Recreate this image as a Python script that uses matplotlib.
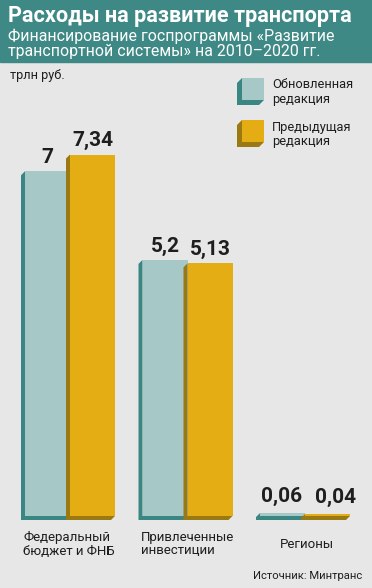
import matplotlib.pyplot as plt
from matplotlib.patches import Polygon, Rectangle

# ------------------------ ДАННЫЕ ------------------------
categories = ["Федеральный\nбюджет и ФНБ", "Привлеченные\nинвестиции", "Регионы"]
updated = [7, 5.2, 0.06]
previous = [7.34, 5.13, 0.04]
updated_labels = ["7", "5,2", "0,06"]
previous_labels = ["7,34", "5,13", "0,04"]
series_names = ["Обновленная\nредакция", "Предыдущая\nредакция"]

title = "Расходы на развитие транспорта"
subtitle = "Финансирование госпрограммы «Развитие\nтранспортной системы» на 2010–2020 гг."
unit = "трлн руб."
source = "Источник: Минтранс"

# ------------------------ СТИЛЬ ------------------------
W, H = 372, 588
BG = "#e7e7e7"
HEAD = "#3e8985"
TEAL, TEAL_D = "#a6c9c8", "#3a8683"
GOLD, GOLD_D = "#e4ad14", "#9a7812"
INK = "#1e1e1e"
FONT = "Roboto"

plt.rcParams["font.family"] = [FONT, "DejaVu Sans"]

fig = plt.figure(figsize=(W / 100, H / 100), dpi=100, facecolor=BG)


def fx(px):
    return px / W


def fy(py):
    return 1 - py / H


# шапка
fig.patches.append(Rectangle((0, fy(62)), 1, 62 / H, transform=fig.transFigure,
                             color=HEAD, zorder=0))
fig.text(fx(8), fy(16), title, color="white", fontsize=15.6, fontweight="bold",
         va="center", ha="left")
fig.text(fx(8), fy(44), subtitle, color="white", fontsize=11.4,
         va="center", ha="left", linespacing=1.05)
fig.text(fx(10), fy(75), unit, color=INK, fontsize=9.2, va="center")
fig.text(fx(362), fy(576), source, color=INK, fontsize=8.1, va="center", ha="right")

# ------------------------ СТОЛБЦЫ ------------------------
top_px, bot_px = 122, 516
ax = fig.add_axes([0, fy(bot_px), 1, (bot_px - top_px) / H])
ax.set_xlim(-70 / 117.5, (372 - 70) / 117.5)
ax.set_ylim(0, 8)
ax.axis("off")

sx = W / (ax.get_xlim()[1] - ax.get_xlim()[0])
sy = (bot_px - top_px) / 8
bw = 45 / sx
depth = 4


def bar3d(xc, h, face, side):
    x0, x1 = xc - bw / 2, xc + bw / 2
    dx, dy = depth / sx, depth / sy
    ax.add_patch(Polygon([(x0, h), (x0 - dx, h - dy), (x0 - dx, -dy),
                          (x1 - dx, -dy), (x1, 0), (x0, 0)],
                         closed=True, color=side, lw=0, clip_on=False))
    ax.bar(xc, h, bw, color=face, lw=0, clip_on=False)


for i in range(len(categories)):
    bar3d(i - bw / 2, updated[i], TEAL, TEAL_D)
    bar3d(i + bw / 2, previous[i], GOLD, GOLD_D)
    for xc, v, lab in [(i - bw / 2, updated[i], updated_labels[i]),
                       (i + bw / 2, previous[i], previous_labels[i])]:
        shift = 0 if v > 1 else (-1 if xc < i else 6)
        ax.annotate(lab, (xc, v), xytext=(shift, 6 if v > 1 else 8),
                    textcoords="offset points", ha="center", va="baseline",
                    fontsize=15, fontweight="bold", color=INK, annotation_clip=False)

# подписи категорий
for i, cat in enumerate(categories):
    if i < 2:
        ax.text(i - bw - 2 / sx, -28 / sy, cat, ha="left", va="center",
                fontsize=9.5, color=INK, linespacing=1.1)
    else:
        ax.text(i + 2 / sx, -28 / sy, cat, ha="center", va="center",
                fontsize=9.5, color=INK)

# легенда
for k, (name, face, side) in enumerate(zip(series_names, [TEAL, GOLD], [TEAL_D, GOLD_D])):
    x0, y0, s = 242, 78 + 42 * k, 22
    d = 5
    pts = [(x0, y0), (x0 - d, y0 + d), (x0 - d, y0 + s + d), (x0 + s - d, y0 + s + d),
           (x0 + s, y0 + s), (x0, y0 + s)]
    fig.patches.append(Polygon([(fx(a), fy(b)) for a, b in pts], closed=True,
                               transform=fig.transFigure, color=side, lw=0))
    fig.patches.append(Rectangle((fx(x0), fy(y0 + s)), s / W, s / H,
                                 transform=fig.transFigure, color=face, lw=0))
    fig.text(fx(272), fy(y0 + 14), name, ha="left", va="center", fontsize=9.3,
             color=INK, linespacing=1.1)

fig.savefig("out.png", dpi=100, facecolor=BG)
